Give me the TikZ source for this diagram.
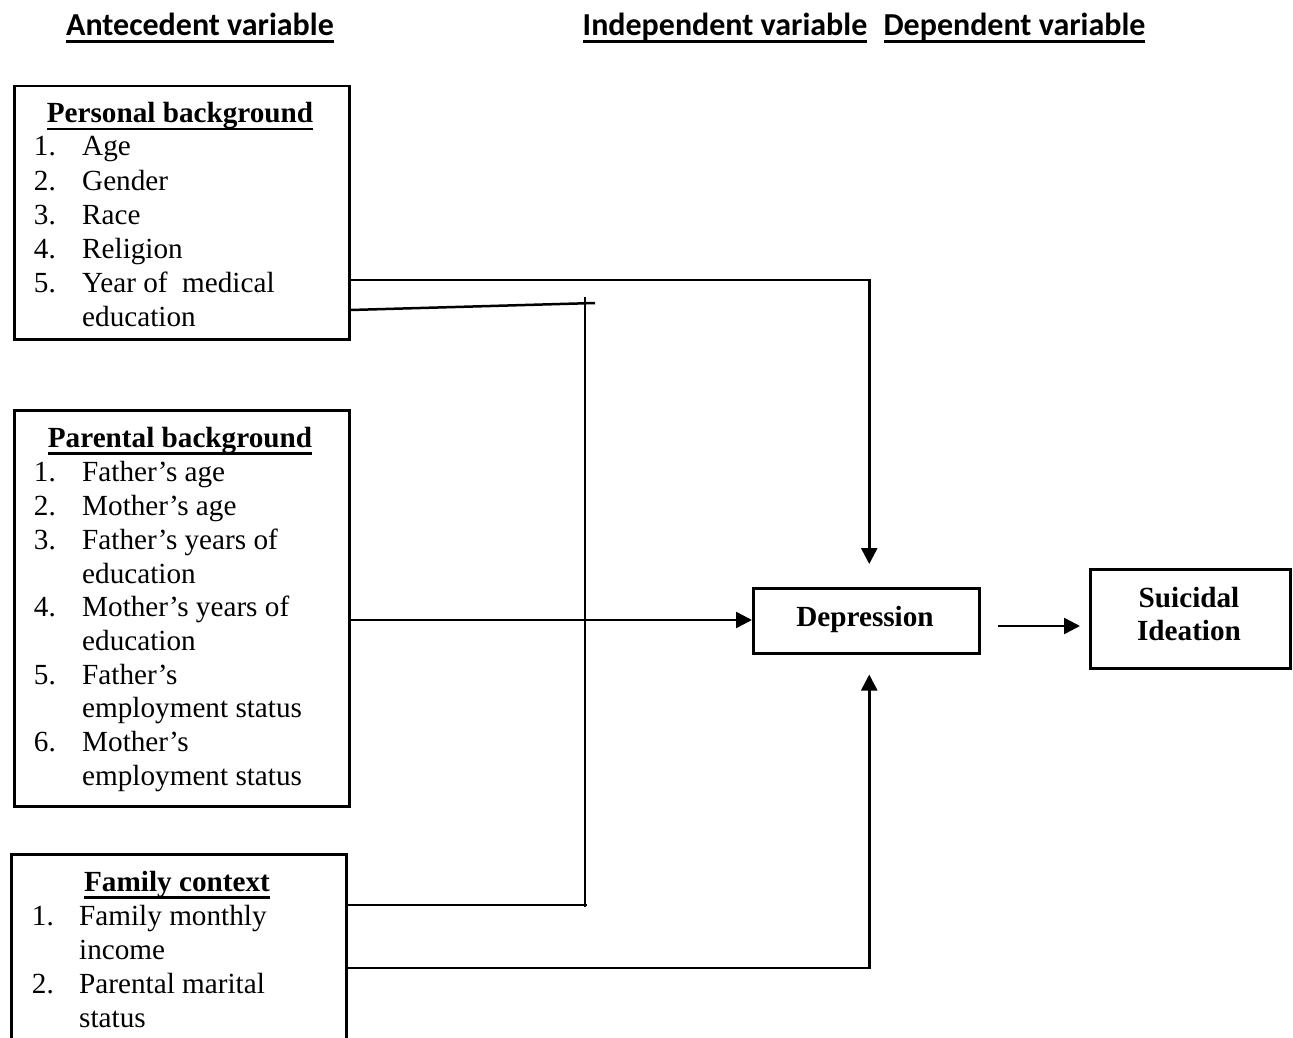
\documentclass[tikz,border=0pt]{standalone}
\usepackage{fontspec}
\setmainfont{Liberation Serif}
\newfontfamily\hdrfont{Carlito}
\usetikzlibrary{arrows.meta}
\newcommand{\myul}[3]{\setbox0\hbox{#3}\rlap{\rule[-#1pt]{\wd0}{#2pt}}\box0}
\tikzset{
  box/.style={draw, line width=2.5pt, inner sep=0pt},
  conn/.style={line width=2.5pt},
  arr/.style={conn, -{Triangle[length=16pt,width=16pt]}},
  hdr/.style={anchor=base, inner sep=0pt, font=\hdrfont\bfseries\fontsize{32}{36}\selectfont},
  ttl/.style={anchor=base, inner sep=0pt, font=\bfseries\fontsize{29.2}{34}\selectfont},
  num/.style={anchor=base east, inner sep=0pt, font=\fontsize{29.2}{34}\selectfont},
  itm/.style={anchor=base west, inner sep=0pt, font=\fontsize{29.2}{34}\selectfont},
  bld/.style={inner sep=0pt, align=center, font=\bfseries\fontsize{29.2}{33}\selectfont}
}
\begin{document}
\begin{tikzpicture}[x=1pt,y=-1pt]
\useasboundingbox (0,0) rectangle (1293,1038);
\clip (0,0) rectangle (1293,1038);
% headers
\node[hdr] (h1) at (200,36) {\myul{7}{3}{Antecedent variable}};
\node[hdr] (h2) at (725,36) {\myul{7}{3}{Independent variable}};
\node[hdr] (h3) at (1014.5,36) {\myul{7}{3}{Dependent variable}};
% boxes
\node[box, minimum width=335pt, minimum height=253pt, anchor=north west] (pers) at (13,85) {};
\node[box, minimum width=335pt, minimum height=396pt, anchor=north west] (par) at (13,409) {};
\node[box, minimum width=335pt, minimum height=260pt, anchor=north west] (fam) at (10,853) {};
\node[box, minimum width=226pt, minimum height=65pt, anchor=north west] (dep) at (752,587) {};
\node[box, minimum width=200pt, minimum height=99pt, anchor=north west] (sui) at (1089,568) {};
% personal
\node[ttl] (pt) at (180,123) {\myul{7.5}{2.4}{Personal background}};
\node[num] (pn1) at (56,156) {1.}; \node[itm] (pi1) at (82,156) {Age};
\node[num] (pn2) at (56,190) {2.}; \node[itm] (pi2) at (82,190) {Gender};
\node[num] (pn3) at (56,224) {3.}; \node[itm] (pi3) at (82,224) {Race};
\node[num] (pn4) at (56,258) {4.}; \node[itm] (pi4) at (82,258) {Religion};
\node[num] (pn5) at (56,292) {5.}; \node[itm] (pi5) at (82,292) {Year of \ medical};
\node[itm] (pi6) at (82,326) {education};
% parental
\node[ttl] (qt) at (180,447) {\myul{7.5}{2.4}{Parental background}};
\node[num] (qn1) at (56,481) {1.}; \node[itm] (qi1) at (82,481) {Father’s age};
\node[num] (qn2) at (56,515) {2.}; \node[itm] (qi2) at (82,515) {Mother’s age};
\node[num] (qn3) at (56,549) {3.}; \node[itm] (qi3) at (82,549) {Father’s years of};
\node[itm] (qi4) at (82,583) {education};
\node[num] (qn4) at (56,616) {4.}; \node[itm] (qi5) at (82,616) {Mother’s years of};
\node[itm] (qi6) at (82,650) {education};
\node[num] (qn5) at (56,684) {5.}; \node[itm] (qi7) at (82,684) {Father’s};
\node[itm] (qi8) at (82,717) {employment status};
\node[num] (qn6) at (56,751) {6.}; \node[itm] (qi9) at (82,751) {Mother’s};
\node[itm] (qi10) at (82,785) {employment status};
% family
\node[ttl] (ft) at (177,891) {\myul{7.5}{2.4}{Family context}};
\node[num] (fn1) at (54,925) {1.}; \node[itm] (fi1) at (79,925) {Family monthly};
\node[itm] (fi2) at (79,959) {income};
\node[num] (fn2) at (54,993) {2.}; \node[itm] (fi3) at (79,993) {Parental marital};
\node[itm] (fi4) at (79,1027) {status};
% right nodes text
\node[bld, anchor=base] (dept) at (865,626) {Depression};
\node[bld] (suit) at (1189,614) {Suicidal\\Ideation};
% connectors
\coordinate (jtop) at (585,297);
\coordinate (jbot) at (585,907);
\coordinate (tick) at (595,303);
\draw[arr] (pers.east |- 0,280) -| ([xshift=3pt,yshift=23pt]dep.north);
\draw[conn] (pers.east |- 0,310) -- (tick);
\draw[conn] (jtop) -- (jbot);
\draw[conn] (fam.east |- 0,905) -- ([xshift=2pt]jbot |- 0,905);
\draw[arr] (par.east |- 0,620) -- (dep.west |- 0,620);
\draw[arr] (fam.east |- 0,968) -| ([xshift=3pt,yshift=-20pt]dep.south);
\draw[arr] ([xshift=17pt]dep.east |- 0,626) -- ([xshift=-9pt]sui.west |- 0,626);
\end{tikzpicture}
\end{document}
